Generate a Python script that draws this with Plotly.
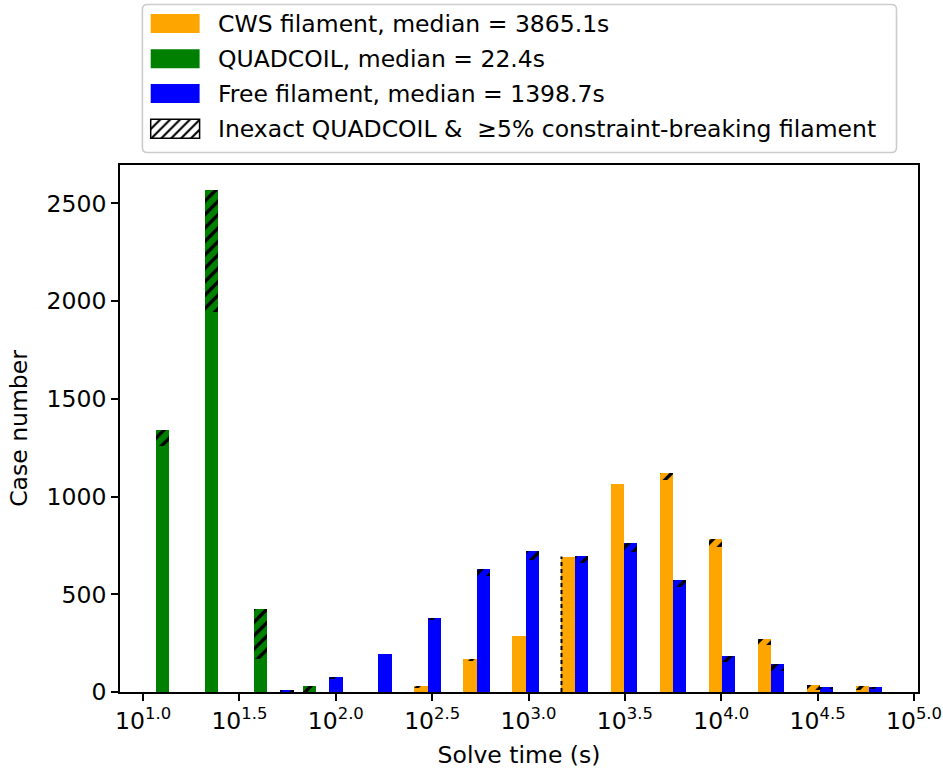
import numpy as np
import plotly.graph_objects as go

# Histogram of solve times (log10 seconds), 15 equal-width bins in log space
LOG_T_MIN = 1.043
LOG_T_MAX = 4.858
N_BINS = 15

# Counts per bin: total cases and the part flagged as inexact / constraint-breaking
quad_total = [1338, 2568, 426, 33, 0, 0, 0, 0, 0, 0, 0, 0, 0, 0, 0]
quad_hatch = [78, 622, 259, 31, 0, 0, 0, 0, 0, 0, 0, 0, 0, 0, 0]
cws_total = [0, 0, 0, 0, 0, 27, 165, 289, 693, 1066, 1123, 785, 273, 37, 32]
cws_hatch = [0, 0, 0, 0, 0, 4, 4, 0, 0, 0, 36, 41, 35, 28, 24]
free_total = [0, 0, 6, 73, 197, 378, 627, 722, 698, 760, 575, 182, 144, 27, 26]
free_hatch = [0, 0, 4, 3, 0, 6, 35, 48, 39, 46, 40, 31, 36, 12, 6]
cws_dashed_bins = [8]

labels = [
    "CWS filament, median = 3865.1s",
    "QUADCOIL, median = 22.4s",
    "Free filament, median = 1398.7s",
    "Inexact QUADCOIL &  \u22655% constraint-breaking filament",
]
x_tick_vals = [1.0, 1.5, 2.0, 2.5, 3.0, 3.5, 4.0, 4.5, 5.0]
x_tick_text = ["10<sup>%.1f</sup>" % v for v in x_tick_vals]
y_tick_vals = [0, 500, 1000, 1500, 2000, 2500]

ORANGE, GREEN, BLUE = "#FFA500", "#008000", "#0000FF"
FONT = "DejaVu Sans"
FS = 23.5

W, H = 943, 771
ML, MR, MT, MB = 120, 25, 0, 79
PW, PH = W - ML - MR, H - MT - MB
PLOT_TOP_PX = 165


def px_x(px):
    return (px - ML) / PW


def px_y(py):
    return (H - MB - py) / PH


edges = np.linspace(LOG_T_MIN, LOG_T_MAX, N_BINS + 1)
bin_w = np.diff(edges)
bar_w = 0.8 * bin_w / 3
series = [
    ("QUADCOIL", quad_total, quad_hatch, GREEN),
    ("CWS", cws_total, cws_hatch, ORANGE),
    ("Free", free_total, free_hatch, BLUE),
]

fig = go.Figure()
for i, (name, total, hatch, color) in enumerate(series):
    total = np.array(total, dtype=float)
    hatch = np.array(hatch, dtype=float)
    solid = total - hatch
    left = edges[:-1] + 0.1 * bin_w + i * bar_w
    centers = left + bar_w / 2
    fig.add_trace(go.Bar(
        x=centers, y=solid, width=bar_w, name=name,
        marker=dict(color=color, line=dict(width=0)),
        showlegend=False, hoverinfo="skip",
    ))
    fig.add_trace(go.Bar(
        x=centers, y=hatch, base=solid, width=bar_w, name=name + " (inexact)",
        marker=dict(
            color=color, line=dict(width=0),
            pattern=dict(shape="/", fgcolor="black", bgcolor=color,
                         fillmode="replace", size=9.5, solidity=0.35),
        ),
        showlegend=False, hoverinfo="skip",
    ))

# dashed outline on the left edge of selected CWS bars
for b in cws_dashed_bins:
    x_edge = edges[b] + 0.1 * bin_w[b] + bar_w[b]
    fig.add_trace(go.Scatter(
        x=[x_edge, x_edge], y=[0, cws_total[b]], mode="lines",
        line=dict(color="black", width=2, dash="4px,3px"),
        showlegend=False, hoverinfo="skip",
    ))

lo = edges[0] + 0.1 * bin_w[0]
hi = edges[-1] - 0.1 * bin_w[-1]
pad = 0.05 * (hi - lo)
y_max = 1.05 * max(max(quad_total), max(cws_total), max(free_total))

axis_common = dict(
    showline=True, mirror=True, linecolor="black", linewidth=1.8,
    ticks="outside", ticklen=7, tickwidth=1.8, tickcolor="black",
    showgrid=False, zeroline=False,
    tickfont=dict(family=FONT, size=FS, color="black"),
)

fig.update_layout(
    width=W, height=H,
    margin=dict(l=ML, r=MR, t=MT, b=MB, pad=0),
    paper_bgcolor="white", plot_bgcolor="white",
    barmode="overlay", bargap=0,
    font=dict(family=FONT, size=FS, color="black"),
    xaxis=dict(
        range=[lo - pad, hi + pad], tickmode="array",
        tickvals=x_tick_vals, ticktext=x_tick_text,
        title=dict(text="Solve time (s)", font=dict(family=FONT, size=FS, color="black"), standoff=12),
        **axis_common,
    ),
    yaxis=dict(
        range=[0, y_max], domain=[0, px_y(PLOT_TOP_PX)], tickmode="array",
        tickvals=y_tick_vals,
        title=dict(text="Case number", font=dict(family=FONT, size=FS, color="black"), standoff=12),
        **axis_common,
    ),
    xaxis2=dict(domain=[px_x(150.7), px_x(199.6)], range=[-0.5, 0.5], visible=False,
                anchor="y2", fixedrange=True),
    yaxis2=dict(domain=[px_y(138.2), px_y(119.2)], range=[0, 1], visible=False,
                anchor="x2", fixedrange=True),
)

# legend frame (rounded)
bx0, bx1, by0, by1 = px_x(142.4), px_x(896.5), px_y(152.5), px_y(4.5)
rx, ry = 5 / PW, 5 / PH
path = (f"M{bx0 + rx},{by0} L{bx1 - rx},{by0} Q{bx1},{by0} {bx1},{by0 + ry} "
        f"L{bx1},{by1 - ry} Q{bx1},{by1} {bx1 - rx},{by1} "
        f"L{bx0 + rx},{by1} Q{bx0},{by1} {bx0},{by1 - ry} "
        f"L{bx0},{by0 + ry} Q{bx0},{by0} {bx0 + rx},{by0} Z")
shapes = [dict(type="path", path=path, xref="paper", yref="paper",
               fillcolor="rgba(255,255,255,0.8)", line=dict(color="#cccccc", width=1.6),
               layer="below")]

row_centers = [23.5, 58.8, 93.5, 128.7]
patch_colors = [ORANGE, GREEN, BLUE]
for yc, col in zip(row_centers[:3], patch_colors):
    shapes.append(dict(type="rect", xref="paper", yref="paper",
                       x0=px_x(150.7), x1=px_x(199.6), y0=px_y(yc + 9.5), y1=px_y(yc - 9.5),
                       fillcolor=col, line=dict(width=0), layer="above"))
shapes.append(dict(type="rect", xref="paper", yref="paper",
                   x0=px_x(150.7), x1=px_x(199.6), y0=px_y(138.2), y1=px_y(119.2),
                   fillcolor="rgba(0,0,0,0)", line=dict(color="black", width=1.5), layer="above"))

# hatched legend swatch
fig.add_trace(go.Bar(
    x=[0], y=[1], width=[1], xaxis="x2", yaxis="y2",
    marker=dict(color="white", line=dict(width=0),
                pattern=dict(shape="/", fgcolor="black", bgcolor="white",
                             fillmode="replace", size=7, solidity=0.3)),
    showlegend=False, hoverinfo="skip",
))

annotations = []
for yc, txt in zip(row_centers, labels):
    annotations.append(dict(
        text=txt, xref="paper", yref="paper", x=px_x(216), y=px_y(yc),
        xanchor="left", yanchor="middle", showarrow=False,
        font=dict(family=FONT, size=FS, color="black"),
    ))

fig.update_layout(shapes=shapes, annotations=annotations)

fig.write_html("out.html")
